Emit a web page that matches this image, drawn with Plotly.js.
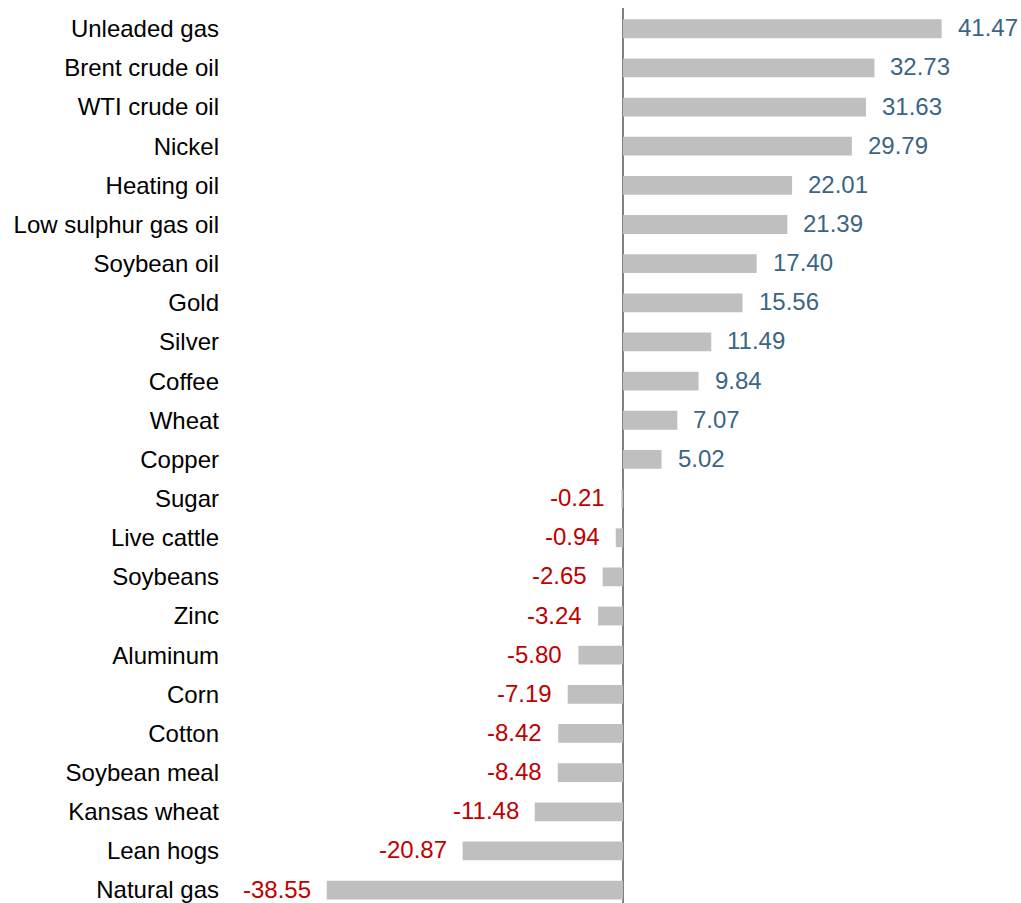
<!DOCTYPE html>
<html>
<head>
<meta charset="utf-8">
<script src="https://cdn.plot.ly/plotly-3.0.1.min.js"></script>
<style>html,body{margin:0;padding:0;background:#fff;}#chart{width:1021px;height:903px;}</style>
</head>
<body>
<div id="chart"></div>
<script>
var categories = ["Unleaded gas","Brent crude oil","WTI crude oil","Nickel","Heating oil","Low sulphur gas oil","Soybean oil","Gold","Silver","Coffee","Wheat","Copper","Sugar","Live cattle","Soybeans","Zinc","Aluminum","Corn","Cotton","Soybean meal","Kansas wheat","Lean hogs","Natural gas"];
var values = [41.47,32.73,31.63,29.79,22.01,21.39,17.40,15.56,11.49,9.84,7.07,5.02,-0.21,-0.94,-2.65,-3.24,-5.80,-7.19,-8.42,-8.48,-11.48,-20.87,-38.55];
var valueLabels = values.map(function(v){return v.toFixed(2);});

var FONT = "Liberation Sans, Arial, sans-serif";
var annotations = values.map(function(v,i){
  var pos = v >= 0;
  return {
    x: v, y: categories[i], xref:'x', yref:'y',
    text: valueLabels[i], showarrow:false,
    xanchor: pos ? 'left' : 'right',
    xshift: pos ? 14 : -14,
    yshift: 1,
    font: {family: FONT, size: 24, color: pos ? '#3a6585' : '#c00000'}
  };
});

var trace = {
  type:'bar', orientation:'h',
  x: values, y: categories,
  width: 0.48,
  marker:{color:'#bfbfbf'},
  hoverinfo:'none'
};

var layout = {
  width:1021, height:903,
  margin:{l:228, r:0, t:8, b:0, pad:0},
  paper_bgcolor:'#fff', plot_bgcolor:'#fff',
  showlegend:false,
  xaxis:{range:[-51.4, 51.8], showgrid:false, zeroline:true, zerolinecolor:'#808080', zerolinewidth:1.5, showticklabels:false, ticks:'', fixedrange:true},
  yaxis:{type:'category', range:[22.33, -0.53], showgrid:false, zeroline:false, showline:false, ticks:'', ticklabelstandoff:8,
         tickfont:{family:FONT, size:24, color:'#000'}, fixedrange:true},
  annotations: annotations
};

Plotly.newPlot('chart',[trace],layout,{displayModeBar:false, staticPlot:true});
</script>
</body>
</html>
